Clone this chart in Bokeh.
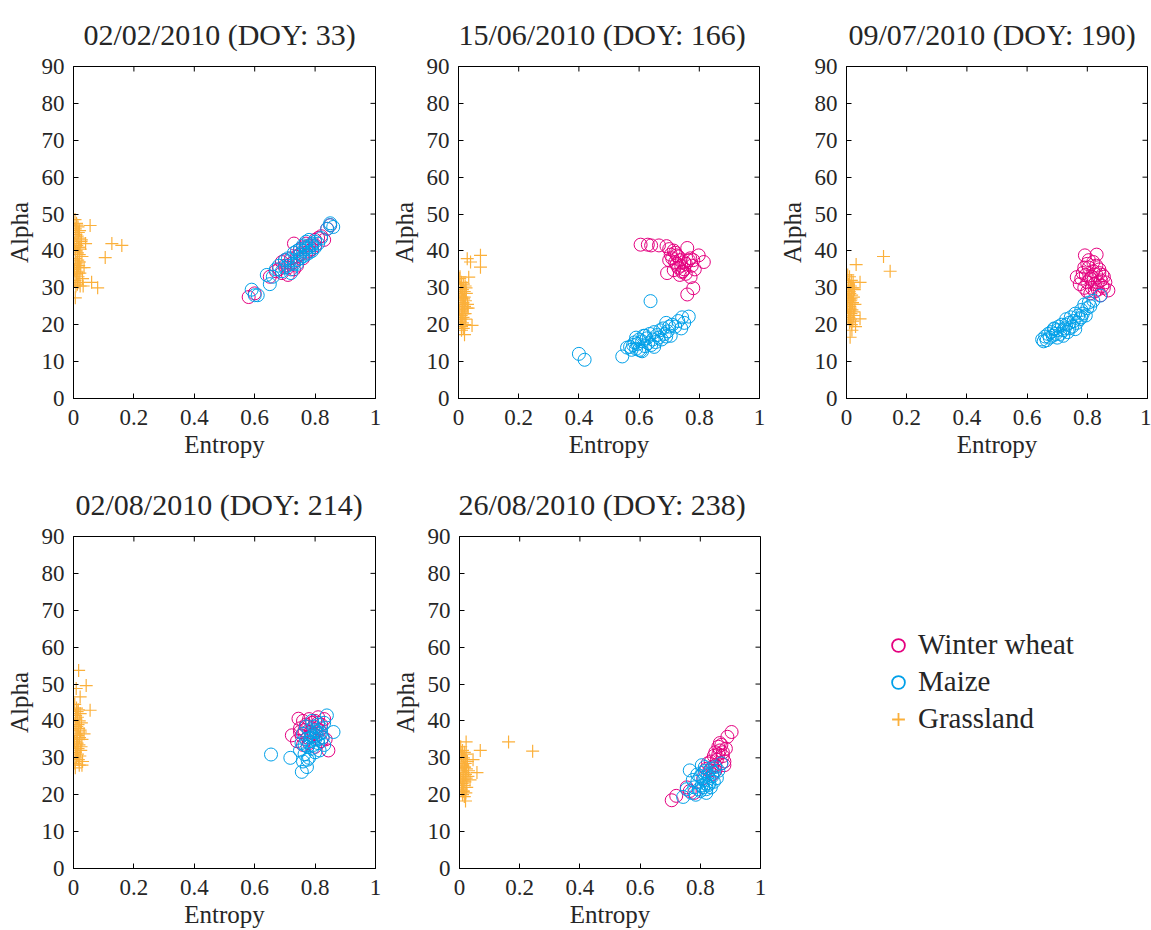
import math
from bokeh.plotting import figure
from bokeh.models import FixedTicker, Legend, LegendItem, Range1d
from bokeh.layouts import row, column
from bokeh.embed import file_html
from bokeh.resources import INLINE

FONT = "Liberation Serif"
TXT = "#262626"
WHEAT_C = "#E4007F"
MAIZE_C = "#00A0E9"
GRASS_C = "#FBB03B"

titles = ["02/02/2010 (DOY: 33)", "15/06/2010 (DOY: 166)", "09/07/2010 (DOY: 190)",
          "02/08/2010 (DOY: 214)", "26/08/2010 (DOY: 238)"]
class_names = ["Winter wheat", "Maize", "Grassland"]
x_ticks = [0, 0.2, 0.4, 0.6, 0.8, 1]
x_tick_labels = ["0", "0.2", "0.4", "0.6", "0.8", "1"]
y_ticks = [0, 10, 20, 30, 40, 50, 60, 70, 80, 90]

# ---- DOY 33 ----
w1x = [0.58, 0.60, 0.65, 0.67, 0.68, 0.69, 0.70, 0.70, 0.71, 0.72, 0.72, 0.73, 0.73, 0.74, 0.74, 0.75, 0.75, 0.76, 0.76, 0.77,
       0.77, 0.78, 0.78, 0.79, 0.80, 0.80, 0.81, 0.82, 0.83, 0.84, 0.85, 0.73, 0.71, 0.69]
w1y = [27.5, 28.5, 33.0, 34.5, 35.0, 34.0, 36.0, 37.5, 35.5, 36.5, 38.0, 37.0, 42.0, 38.5, 36.0, 39.0, 40.5, 38.0, 41.0, 39.5,
       42.0, 40.0, 41.5, 40.5, 43.0, 41.5, 43.5, 44.0, 43.0, 46.0, 47.0, 35.0, 33.5, 37.0]
m1x = [0.59, 0.60, 0.61, 0.64, 0.65, 0.66, 0.67, 0.68, 0.69, 0.70, 0.70, 0.71, 0.71, 0.72, 0.72, 0.73, 0.73, 0.74, 0.74, 0.75,
       0.75, 0.76, 0.76, 0.76, 0.77, 0.77, 0.77, 0.78, 0.78, 0.78, 0.79, 0.79, 0.80, 0.80, 0.81, 0.82, 0.84, 0.85, 0.85, 0.86,
       0.74, 0.72, 0.75, 0.77, 0.79]
m1y = [29.5, 28.0, 28.0, 33.5, 31.0, 33.0, 35.0, 36.0, 34.5, 35.5, 37.5, 36.0, 38.0, 35.0, 37.5, 36.5, 39.5, 37.5, 40.0, 38.0,
       40.5, 38.5, 40.0, 41.5, 39.0, 40.5, 42.5, 39.5, 41.0, 43.0, 40.0, 42.0, 41.0, 42.5, 42.0, 43.5, 46.0, 47.0, 47.5, 46.5,
       36.5, 34.0, 39.0, 41.0, 41.5]
g1x = [0.005, 0.010, 0.015, 0.020, 0.008, 0.012, 0.018, 0.025, 0.004, 0.011, 0.016, 0.022, 0.007, 0.013, 0.019, 0.028, 0.006,
       0.014, 0.020, 0.009, 0.017, 0.024, 0.003, 0.012, 0.021, 0.010, 0.015, 0.030, 0.005, 0.018, 0.013, 0.008, 0.022, 0.016,
       0.011, 0.026, 0.006, 0.019, 0.014, 0.009, 0.040, 0.035, 0.055, 0.127, 0.160, 0.105, 0.060, 0.080, 0.006, 0.032]
g1y = [48.5, 47.5, 46.5, 45.5, 44.5, 44.0, 43.5, 42.5, 42.0, 41.5, 41.0, 40.5, 40.0, 39.5, 39.0, 38.5, 38.0, 37.5, 37.0, 36.5,
       36.0, 35.5, 35.0, 34.5, 34.0, 33.5, 33.0, 32.5, 32.0, 31.5, 31.0, 30.5, 30.5, 45.0, 47.0, 43.0, 46.0, 41.0, 36.0, 34.0,
       42.0, 35.5, 46.9, 42.0, 41.5, 38.2, 31.5, 30.0, 27.3, 30.5]

# ---- DOY 166 ----
w2x = [0.605, 0.629, 0.640, 0.666, 0.691, 0.700, 0.705, 0.710, 0.715, 0.720, 0.720, 0.725, 0.730, 0.730, 0.735, 0.740, 0.745,
       0.750, 0.750, 0.755, 0.760, 0.765, 0.770, 0.775, 0.780, 0.785, 0.798, 0.815, 0.693, 0.743, 0.771, 0.780, 0.760, 0.700,
       0.715, 0.735, 0.755, 0.725]
w2y = [41.7, 41.7, 41.5, 41.5, 41.3, 40.5, 39.0, 38.0, 40.1, 37.0, 39.5, 36.5, 38.5, 35.5, 37.5, 36.0, 34.5, 37.0, 35.0, 36.5,
       40.8, 37.5, 38.0, 36.0, 37.5, 35.0, 38.8, 37.0, 34.0, 34.3, 32.9, 29.9, 28.2, 37.5, 34.8, 33.5, 33.8, 38.8]
m2x = [0.400, 0.419, 0.544, 0.638, 0.560, 0.570, 0.575, 0.580, 0.585, 0.590, 0.595, 0.600, 0.605, 0.610, 0.615, 0.620, 0.625,
       0.630, 0.635, 0.640, 0.645, 0.650, 0.655, 0.660, 0.665, 0.670, 0.675, 0.680, 0.685, 0.690, 0.695, 0.700, 0.705, 0.710,
       0.720, 0.730, 0.740, 0.743, 0.750, 0.765, 0.600, 0.620, 0.650, 0.690, 0.590, 0.610]
m2y = [12.1, 10.5, 11.4, 26.4, 13.8, 14.0, 13.2, 14.5, 15.2, 13.5, 14.8, 16.0, 13.0, 15.5, 17.0, 14.2, 16.3, 15.0, 17.5, 14.5,
       16.0, 18.0, 15.3, 17.2, 16.5, 18.5, 16.0, 19.0, 17.5, 20.5, 18.2, 19.5, 17.0, 20.0, 19.5, 21.0, 19.0, 22.0, 20.5, 22.2,
       13.2, 17.0, 14.0, 16.8, 16.5, 12.8]
g2x = [0.004, 0.010, 0.016, 0.022, 0.007, 0.013, 0.019, 0.026, 0.005, 0.011, 0.017, 0.023, 0.008, 0.014, 0.020, 0.028, 0.003,
       0.012, 0.018, 0.009, 0.015, 0.024, 0.006, 0.013, 0.021, 0.010, 0.016, 0.030, 0.005, 0.019, 0.012, 0.008, 0.022, 0.015,
       0.011, 0.025, 0.029, 0.073, 0.073, 0.040, 0.034, 0.045, 0.020, 0.032, 0.010]
g2y = [32.5, 31.5, 31.0, 30.5, 30.0, 29.5, 29.0, 28.5, 28.0, 27.5, 27.0, 26.5, 26.0, 25.5, 25.0, 24.5, 24.0, 23.5, 23.0, 22.5,
       22.0, 21.5, 21.0, 20.5, 20.0, 19.5, 19.0, 25.5, 33.0, 27.5, 24.0, 21.5, 23.0, 26.0, 28.5, 30.0, 37.9, 38.8, 35.6, 37.0,
       32.9, 19.8, 17.3, 24.5, 18.5]

# ---- DOY 190 ----
w3x = [0.792, 0.831, 0.800, 0.765, 0.775, 0.785, 0.790, 0.795, 0.800, 0.805, 0.810, 0.815, 0.820, 0.825, 0.830, 0.835, 0.840,
       0.845, 0.850, 0.855, 0.860, 0.870, 0.810, 0.820, 0.830, 0.840, 0.800, 0.815, 0.825, 0.835, 0.845, 0.855, 0.850, 0.790,
       0.780, 0.805]
w3y = [38.8, 39.0, 36.5, 32.9, 31.0, 34.0, 30.0, 33.5, 31.5, 35.5, 32.5, 30.0, 34.5, 31.0, 33.5, 29.5, 35.0, 32.0, 30.5, 33.0,
       31.5, 29.3, 28.5, 37.0, 36.0, 34.0, 29.0, 33.0, 29.0, 31.5, 28.0, 30.0, 33.5, 35.5, 32.5, 37.5]
m3x = [0.650, 0.655, 0.660, 0.665, 0.670, 0.675, 0.680, 0.685, 0.690, 0.695, 0.700, 0.705, 0.710, 0.715, 0.720, 0.725, 0.730,
       0.735, 0.740, 0.745, 0.750, 0.755, 0.760, 0.765, 0.770, 0.775, 0.780, 0.785, 0.790, 0.795, 0.800, 0.805, 0.810, 0.820,
       0.843, 0.700, 0.720, 0.740, 0.760, 0.780, 0.730, 0.690]
m3y = [16.0, 15.5, 16.8, 15.8, 17.5, 16.5, 18.0, 17.0, 19.0, 17.5, 18.5, 19.5, 17.5, 20.0, 18.5, 19.0, 21.5, 18.0, 20.5, 22.0,
       19.5, 21.0, 23.0, 20.5, 22.5, 21.5, 24.0, 23.0, 25.5, 22.5, 24.5, 26.0, 25.0, 26.5, 27.9, 16.5, 17.0, 19.0, 18.8, 22.0,
       20.0, 18.8]
g3x = [0.004, 0.010, 0.016, 0.022, 0.007, 0.013, 0.019, 0.026, 0.005, 0.011, 0.017, 0.023, 0.008, 0.014, 0.020, 0.028, 0.003,
       0.012, 0.018, 0.009, 0.015, 0.024, 0.006, 0.013, 0.021, 0.010, 0.016, 0.030, 0.005, 0.019, 0.012, 0.008, 0.022, 0.015,
       0.011, 0.025, 0.123, 0.145, 0.032, 0.045, 0.045, 0.012, 0.018, 0.009]
g3y = [33.5, 33.0, 32.0, 31.5, 31.0, 30.5, 30.0, 29.5, 29.0, 28.5, 28.0, 27.5, 27.0, 26.5, 26.0, 25.5, 25.0, 24.5, 24.0, 23.5,
       23.0, 22.5, 22.0, 21.5, 21.0, 20.5, 20.0, 19.5, 28.0, 26.0, 24.0, 22.0, 30.0, 27.0, 25.0, 23.5, 38.5, 34.5, 36.3, 31.5,
       21.6, 16.6, 18.5, 29.0]

# ---- DOY 214 ----
w4x = [0.745, 0.723, 0.844, 0.740, 0.750, 0.755, 0.760, 0.765, 0.770, 0.775, 0.780, 0.785, 0.790, 0.795, 0.800, 0.805, 0.810,
       0.815, 0.820, 0.825, 0.830, 0.760, 0.780, 0.800, 0.820, 0.770, 0.790, 0.810, 0.835, 0.750]
w4y = [40.6, 36.1, 32.0, 34.5, 38.0, 36.0, 40.0, 37.5, 39.0, 35.5, 40.5, 37.0, 39.5, 36.5, 40.0, 38.0, 41.0, 37.5, 39.0, 35.5,
       40.5, 33.5, 34.0, 33.0, 34.5, 38.5, 36.0, 39.5, 35.0, 37.0]
m4x = [0.654, 0.718, 0.756, 0.773, 0.839, 0.861, 0.750, 0.755, 0.760, 0.765, 0.770, 0.775, 0.780, 0.785, 0.790, 0.795, 0.800,
       0.805, 0.810, 0.815, 0.820, 0.825, 0.830, 0.780, 0.790, 0.800, 0.810, 0.785, 0.795, 0.805, 0.770, 0.815, 0.760, 0.830,
       0.775, 0.800, 0.790, 0.810, 0.765, 0.820]
m4y = [30.9, 30.0, 26.2, 27.5, 41.5, 37.0, 32.0, 34.0, 36.5, 31.0, 35.0, 33.0, 37.5, 34.5, 36.0, 38.5, 35.0, 37.0, 34.0, 36.5,
       38.0, 35.5, 33.5, 30.0, 32.5, 31.5, 39.0, 35.5, 33.5, 36.0, 38.5, 32.0, 29.0, 39.5, 29.5, 37.5, 40.0, 35.0, 33.5, 36.8]
g4x = [0.004, 0.010, 0.016, 0.022, 0.007, 0.013, 0.019, 0.026, 0.005, 0.011, 0.017, 0.023, 0.008, 0.014, 0.020, 0.028, 0.003,
       0.012, 0.018, 0.009, 0.015, 0.024, 0.006, 0.013, 0.021, 0.010, 0.016, 0.030, 0.005, 0.019, 0.012, 0.008, 0.022, 0.015,
       0.011, 0.025, 0.017, 0.042, 0.009, 0.022, 0.055, 0.035, 0.006, 0.028]
g4y = [44.5, 43.5, 43.0, 42.0, 41.5, 41.0, 40.0, 39.5, 39.0, 38.5, 38.0, 37.0, 36.5, 36.0, 35.5, 35.0, 34.5, 34.0, 33.5, 33.0,
       32.5, 32.0, 31.5, 31.0, 30.5, 30.0, 29.5, 29.0, 28.5, 28.0, 42.5, 40.5, 37.5, 39.0, 35.0, 33.0, 53.7, 49.6, 48.8, 46.5,
       42.9, 36.5, 27.3, 28.0]

# ---- DOY 238 ----
w5x = [0.705, 0.720, 0.890, 0.904, 0.865, 0.870, 0.875, 0.880, 0.860, 0.855, 0.850, 0.845, 0.840, 0.835, 0.830, 0.825, 0.820,
       0.885, 0.870, 0.860, 0.850, 0.840, 0.755, 0.765, 0.780, 0.810, 0.880, 0.865, 0.875, 0.850]
w5y = [18.5, 19.7, 35.7, 37.0, 32.0, 33.5, 30.5, 29.0, 31.0, 29.5, 28.0, 30.5, 27.5, 29.0, 26.5, 28.5, 27.0, 32.5, 28.5, 33.0,
       31.5, 25.5, 22.0, 21.0, 20.5, 24.5, 28.0, 34.0, 31.5, 26.5]
m5x = [0.765, 0.743, 0.755, 0.770, 0.780, 0.785, 0.790, 0.795, 0.800, 0.805, 0.810, 0.815, 0.820, 0.825, 0.830, 0.835, 0.840,
       0.845, 0.850, 0.855, 0.860, 0.870, 0.800, 0.810, 0.820, 0.830, 0.815, 0.825, 0.790, 0.835, 0.805, 0.845, 0.775, 0.820,
       0.810]
m5y = [26.6, 19.4, 21.5, 20.5, 22.0, 20.0, 23.5, 21.5, 25.0, 22.5, 24.0, 26.5, 23.0, 25.5, 24.5, 27.0, 25.0, 26.0, 27.5, 24.5,
       26.5, 28.5, 21.0, 22.0, 21.5, 23.0, 27.5, 22.5, 25.5, 22.0, 28.0, 23.5, 24.0, 20.5, 26.0]
g5x = [0.004, 0.010, 0.016, 0.022, 0.007, 0.013, 0.019, 0.026, 0.005, 0.011, 0.017, 0.023, 0.008, 0.014, 0.020, 0.028, 0.003,
       0.012, 0.018, 0.009, 0.015, 0.024, 0.006, 0.013, 0.021, 0.010, 0.016, 0.030, 0.005, 0.019, 0.012, 0.008, 0.022, 0.015,
       0.011, 0.025, 0.163, 0.243, 0.069, 0.058, 0.022, 0.045, 0.020, 0.035]
g5y = [33.0, 32.0, 31.5, 31.0, 30.5, 30.0, 29.5, 29.0, 28.5, 28.0, 27.5, 27.0, 26.5, 26.0, 25.5, 25.0, 24.5, 24.0, 23.5, 23.0,
       22.5, 22.0, 21.5, 21.0, 20.5, 20.0, 19.5, 26.5, 31.5, 28.5, 25.0, 22.5, 24.5, 27.5, 21.0, 29.0, 34.3, 31.8, 32.0, 26.0,
       34.3, 29.5, 18.3, 24.0]

panels_data = [
    (w1x, w1y, m1x, m1y, g1x, g1y),
    (w2x, w2y, m2x, m2y, g2x, g2y),
    (w3x, w3y, m3x, m3y, g3x, g3y),
    (w4x, w4y, m4x, m4y, g4x, g4y),
    (w5x, w5y, m5x, m5y, g5x, g5y),
]


def style_axis(ax, ticks, overrides=None):
    ax.ticker = FixedTicker(ticks=ticks)
    ax.axis_line_color = "black"
    ax.axis_line_width = 1
    ax.major_tick_in = 5
    ax.major_tick_out = 0
    ax.minor_tick_in = 0
    ax.minor_tick_out = 0
    ax.major_tick_line_color = "black"
    ax.major_label_text_font = FONT
    ax.major_label_text_font_size = "23px"
    ax.major_label_text_color = TXT
    ax.axis_label_text_font = FONT
    ax.axis_label_text_font_size = "25px"
    ax.axis_label_text_font_style = "normal"
    ax.axis_label_text_color = TXT
    if overrides:
        ax.major_label_overrides = overrides


def make_panel(i, w, h, bl, br, bt, bb, title_shift):
    wx, wy, mx, my, gx, gy = panels_data[i]
    p = figure(width=w, height=h, x_range=Range1d(0, 1), y_range=Range1d(0, 90),
               output_backend="svg", toolbar_location=None,
               min_border_left=bl, min_border_right=br, min_border_top=bt, min_border_bottom=bb,
               x_axis_label="Entropy", y_axis_label="Alpha")
    p.grid.visible = False
    p.outline_line_color = "black"
    p.outline_line_alpha = 1
    p.title.text = titles[i]
    p.title.text_font = FONT
    p.title.text_font_size = "30px"
    p.title.text_font_style = "normal"
    p.title.text_color = TXT
    p.title.align = "left"
    p.title.offset = title_shift
    p.title.standoff = 31

    xa = p.below[0]
    ya = p.left[0]
    style_axis(xa, x_ticks, {t: l for t, l in zip(x_ticks, x_tick_labels)})
    style_axis(ya, y_ticks)
    xa.major_label_standoff = 11
    xa.axis_label_standoff = 3
    ya.major_label_standoff = 9
    ya.axis_label_standoff = 6

    # inward ticks on the top and right sides of the box
    p.ray(x=x_ticks, y=[p.y_range.end] * len(x_ticks), length=5, angle=-math.pi / 2,
          length_units="screen", line_color="black", line_width=1)
    p.ray(x=[p.x_range.end] * len(y_ticks), y=y_ticks, length=5, angle=math.pi,
          length_units="screen", line_color="black", line_width=1)

    p.scatter(wx, wy, marker="circle", size=13, fill_color=None, line_color=WHEAT_C, line_width=1)
    p.scatter(mx, my, marker="circle", size=13, fill_color=None, line_color=MAIZE_C, line_width=1)
    p.scatter(gx, gy, marker="cross", size=13, line_color=GRASS_C, line_width=1.2)
    return p


f1 = make_panel(0, 385, 468, 73, 10, 66, 70, 10)
f2 = make_panel(1, 390, 468, 73, 16, 66, 70, 0)
f3 = make_panel(2, 376, 468, 71, 4, 66, 70, 2)
f4 = make_panel(3, 385, 462, 73, 10, 68, 62, 2)
f5 = make_panel(4, 390, 462, 74, 15, 68, 62, -1)

# legend cell: the class renderers are drawn from the last date's data, kept outside this cell's view
f6 = figure(width=376, height=462, output_backend="svg", toolbar_location=None,
            x_axis_location=None, y_axis_location=None, min_border=0,
            x_range=Range1d(0, 1), y_range=Range1d(0, 1))
f6.grid.visible = False
f6.outline_line_color = None
r1 = f6.scatter(w5x, w5y, marker="circle", size=13, fill_color=None, line_color=WHEAT_C, line_width=1.8)
r2 = f6.scatter(m5x, m5y, marker="circle", size=13, fill_color=None, line_color=MAIZE_C, line_width=1.8)
r3 = f6.scatter(g5x, g5y, marker="cross", size=13, line_color=GRASS_C, line_width=1.8)
leg = Legend(items=[LegendItem(label=class_names[0], renderers=[r1]),
                    LegendItem(label=class_names[1], renderers=[r2]),
                    LegendItem(label=class_names[2], renderers=[r3])],
             location=(107, 133), label_text_font=FONT, label_text_font_size="29px",
             label_text_color=TXT, glyph_width=32, glyph_height=32, label_standoff=4,
             spacing=4, padding=10, margin=0, border_line_color=None, background_fill_alpha=0)
f6.add_layout(leg)

layout = column(row(f1, f2, f3), row(f4, f5, f6))
open("out.html", "w").write(file_html(layout, INLINE))
